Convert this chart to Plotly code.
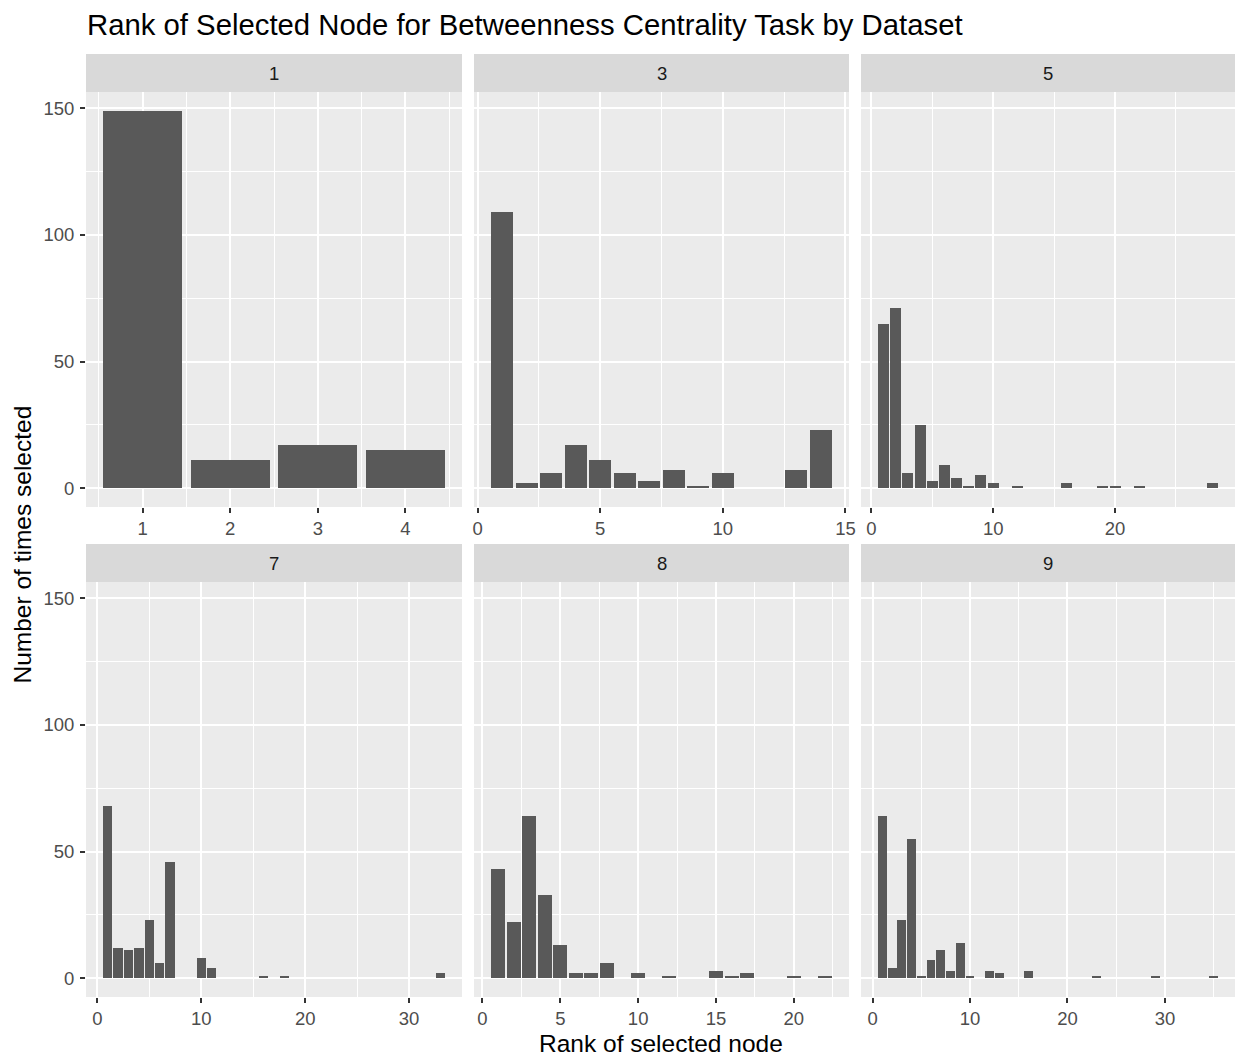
import plotly.graph_objects as go

W, H = 1235, 1057

# ---- data ----
datasets = ["1", "3", "5", "7", "8", "9"]

rank_1 = [1, 2, 3, 4]
count_1 = [149, 11, 17, 15]

rank_3 = [1, 2, 3, 4, 5, 6, 7, 8, 9, 10, 13, 14]
count_3 = [109, 2, 6, 17, 11, 6, 3, 7, 1, 6, 7, 23]

rank_5 = [1, 2, 3, 4, 5, 6, 7, 8, 9, 10, 12, 16, 19, 20, 22, 28]
count_5 = [65, 71, 6, 25, 3, 9, 4, 1, 5, 2, 1, 2, 1, 1, 1, 2]

rank_7 = [1, 2, 3, 4, 5, 6, 7, 10, 11, 16, 18, 33]
count_7 = [68, 12, 11, 12, 23, 6, 46, 8, 4, 1, 1, 2]

rank_8 = [1, 2, 3, 4, 5, 6, 7, 8, 10, 12, 15, 16, 17, 20, 22]
count_8 = [43, 22, 64, 33, 13, 2, 2, 6, 2, 1, 3, 1, 2, 1, 1]

rank_9 = [1, 2, 3, 4, 5, 6, 7, 8, 9, 10, 12, 13, 16, 23, 29, 35]
count_9 = [64, 4, 23, 55, 1, 7, 11, 3, 14, 1, 3, 2, 3, 1, 1, 1]

x_tick_step = [1, 5, 10, 10, 5, 10]
y_ticks = [0, 50, 100, 150]

title_text = "Rank of Selected Node for Betweenness Centrality Task by Dataset"
x_title = "Rank of selected node"
y_title = "Number of times selected"

ranks = [rank_1, rank_3, rank_5, rank_7, rank_8, rank_9]
counts = [count_1, count_3, count_5, count_7, count_8, count_9]

# ---- layout geometry (pixels) ----
cols = [(86, 462), (474, 849), (861, 1235)]
rows = [(92, 507), (582, 997)]
strip_h = 38

FONT = "Liberation Sans, Arial, Helvetica, sans-serif"
BAR = "#595959"
PANEL = "#EBEBEB"
STRIP = "#D9D9D9"

ymax = max(max(c) for c in counts)
ypad = 0.05 * ymax
yrange = [-ypad, ymax + ypad]

fig = go.Figure()
layout = {}
shapes = []
annotations = []

for i, (ds, r, c, step) in enumerate(zip(datasets, ranks, counts, x_tick_step)):
    row, col = divmod(i, 3)
    x0, x1 = cols[col]
    y0, y1 = rows[row]
    sfx = "" if i == 0 else str(i + 1)
    xa, ya = "x" + sfx, "y" + sfx

    fig.add_trace(go.Bar(
        x=r, y=c, width=0.9, marker_color=BAR, marker_line_width=0,
        xaxis=xa, yaxis=ya, showlegend=False,
    ))

    lo = min(r) - 0.45
    hi = max(r) + 0.45
    pad = 0.05 * (hi - lo)

    layout["xaxis" + sfx] = dict(
        domain=[x0 / W, x1 / W], anchor=ya, range=[lo - pad, hi + pad],
        tickmode="linear", tick0=0, dtick=step,
        ticks="outside", ticklen=5, tickwidth=1.5, tickcolor="#333333",
        tickfont=dict(size=18.5, color="#4D4D4D", family=FONT),
        showgrid=True, gridcolor="white", gridwidth=2,
        zeroline=False, showline=False, fixedrange=True, automargin=False,
        minor=dict(tick0=step / 2, dtick=step, showgrid=True,
                   gridcolor="white", gridwidth=1, ticks=""),
    )
    layout["yaxis" + sfx] = dict(
        domain=[1 - y1 / H, 1 - y0 / H], anchor=xa, range=yrange,
        tickmode="array", tickvals=y_ticks,
        showticklabels=(col == 0),
        ticks="outside" if col == 0 else "", ticklen=5, tickwidth=1.5,
        tickcolor="#333333", ticklabelstandoff=2,
        tickfont=dict(size=18.5, color="#4D4D4D", family=FONT),
        showgrid=True, gridcolor="white", gridwidth=2,
        zeroline=False, showline=False, fixedrange=True, automargin=False,
        minor=dict(tick0=25, dtick=50, showgrid=True,
                   gridcolor="white", gridwidth=1, ticks=""),
    )

    # facet strip
    shapes.append(dict(
        type="rect", xref="paper", yref="paper",
        x0=x0 / W, x1=x1 / W, y0=1 - y0 / H, y1=1 - (y0 - strip_h) / H,
        fillcolor=STRIP, line=dict(width=0), layer="below",
    ))
    annotations.append(dict(
        text=ds, xref="paper", yref="paper",
        x=(x0 + x1) / 2 / W, y=1 - (y0 - strip_h / 2) / H,
        xanchor="center", yanchor="middle", showarrow=False,
        font=dict(size=18.5, color="#1A1A1A", family=FONT),
    ))

# axis titles
annotations.append(dict(
    text=x_title, xref="paper", yref="paper",
    x=(cols[0][0] + cols[2][1]) / 2 / W, y=1 - 1043 / H,
    xanchor="center", yanchor="middle", showarrow=False,
    font=dict(size=24.5, color="black", family=FONT),
))
annotations.append(dict(
    text=y_title, xref="paper", yref="paper",
    x=22 / W, y=1 - (rows[0][0] + rows[1][1]) / 2 / H,
    xanchor="center", yanchor="middle", showarrow=False, textangle=-90,
    font=dict(size=24.5, color="black", family=FONT),
))

fig.update_layout(
    width=W, height=H,
    margin=dict(l=0, r=0, t=0, b=0, pad=0, autoexpand=False),
    paper_bgcolor="white", plot_bgcolor=PANEL,
    bargap=0, showlegend=False,
    title=dict(text=title_text, x=87 / W, xanchor="left",
               y=1 - 25 / H, yanchor="middle", automargin=False,
               font=dict(size=29.3, color="black", family=FONT)),
    shapes=shapes, annotations=annotations,
    **layout,
)

fig.write_html(
    "out.html",
    config={"displayModeBar": False, "responsive": False},
    post_script=(
        "document.documentElement.style.margin='0';"
        "document.documentElement.style.overflow='hidden';"
        "document.body.style.margin='0';"
        "document.body.style.overflow='hidden';"
    ),
)
